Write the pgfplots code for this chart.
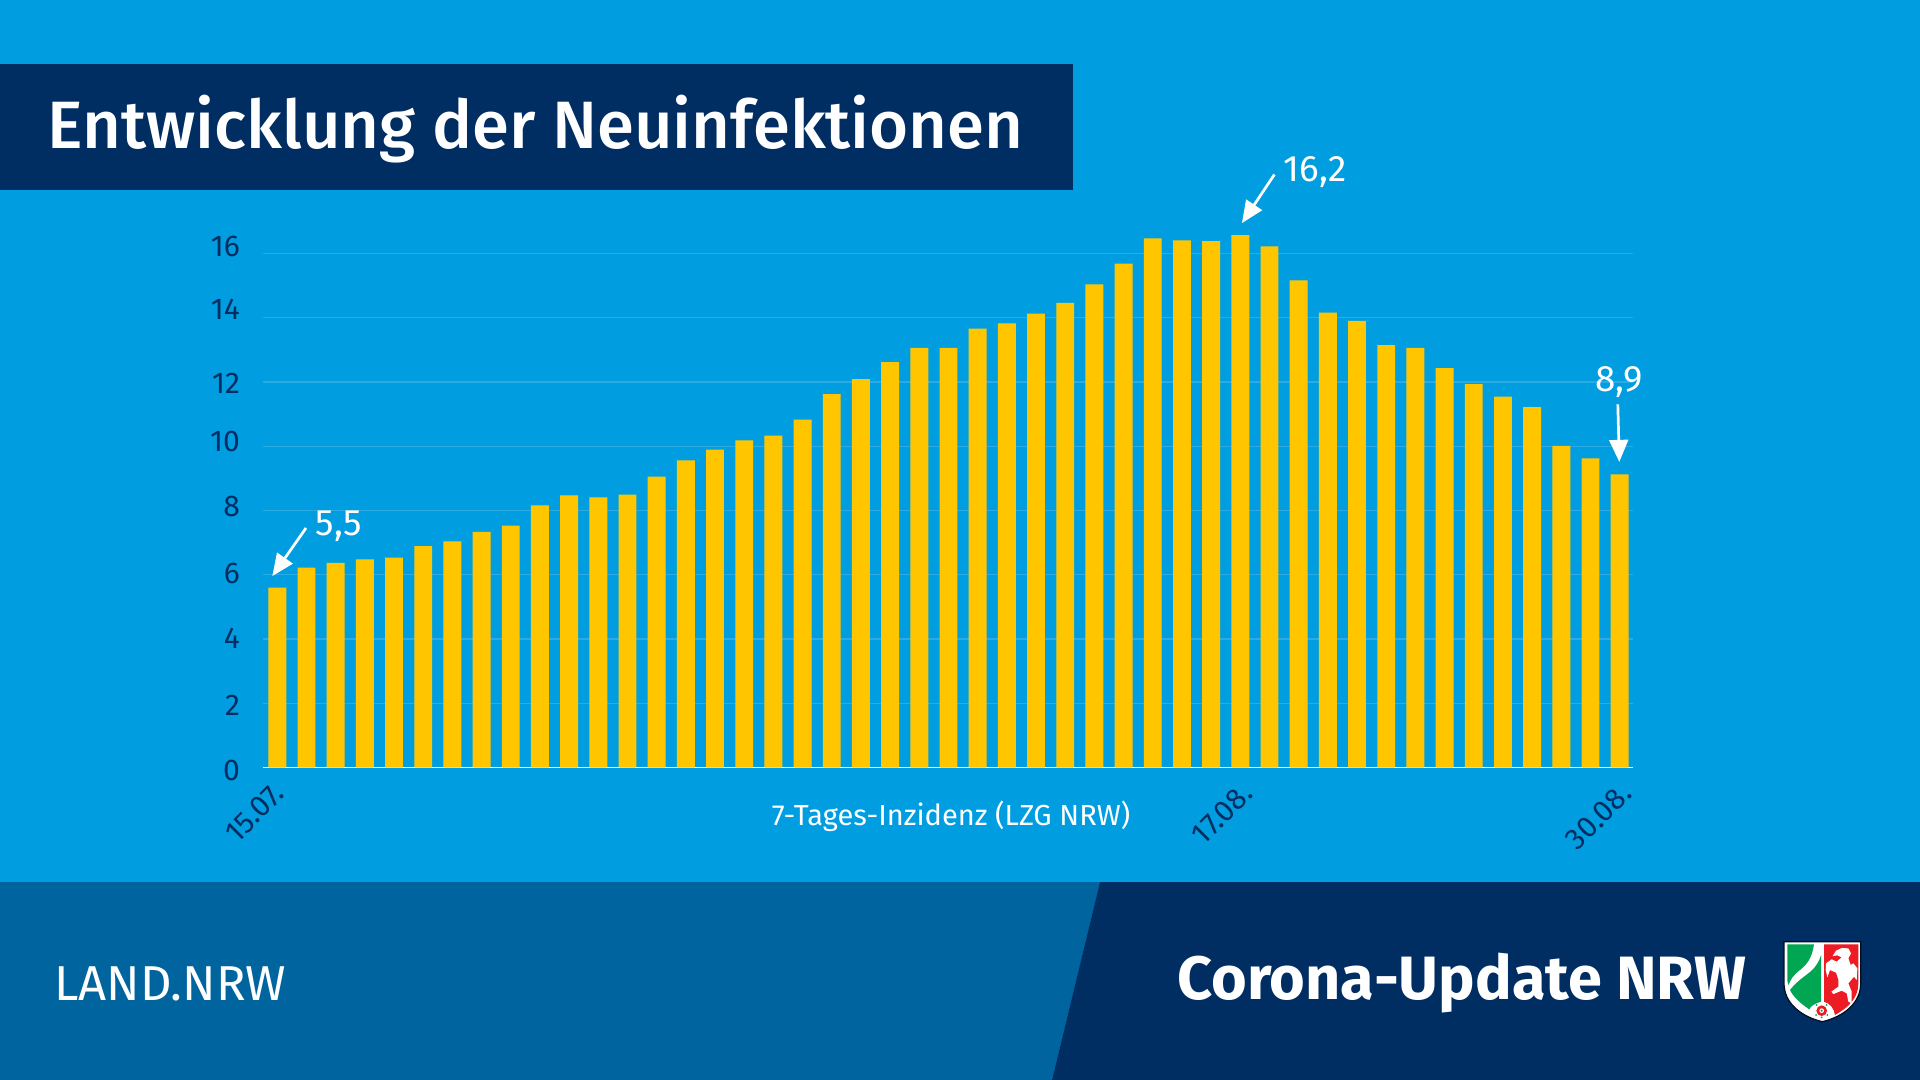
\documentclass[border=0pt]{standalone}
\usepackage{fontspec}
\setmainfont{Fira Sans}
\newfontfamily\med{Fira Sans Medium}
\usepackage{pgfplots}
\usetikzlibrary{calc}
\pgfplotsset{compat=1.18}
\usepackage{pgfplotstable}
\definecolor{bgblue}{HTML}{009EE0}
\definecolor{navy}{HTML}{002D62}
\definecolor{midblue}{HTML}{00659F}
\definecolor{bary}{HTML}{FFC600}
\definecolor{gridb}{HTML}{2BABE6}
\definecolor{nrwgreen}{HTML}{00A651}
\definecolor{nrwred}{HTML}{ED1C24}
\newcommand\yl[2]{\raisebox{#1}[\height][\depth]{#2}}
\newcommand\arr[4]{%
  \draw[white,line width=1.35pt] (#1,#2) -- ($(#1,#2)!0.8!(#3,#4)$);
  \fill[white] (#3,#4) -- ($(#3,#4)!12pt!-24:(#1,#2)$) -- ($(#3,#4)!12pt!24:(#1,#2)$) -- cycle;}
\pgfplotstableread{
i v
0 5.60
1 6.22
2 6.37
3 6.48
4 6.53
5 6.89
6 7.04
7 7.33
8 7.53
9 8.16
10 8.47
11 8.41
12 8.49
13 9.05
14 9.56
15 9.89
16 10.18
17 10.33
18 10.83
19 11.62
20 12.09
21 12.62
22 13.06
23 13.06
24 13.66
25 13.82
26 14.13
27 14.46
28 15.04
29 15.68
30 16.47
31 16.41
32 16.38
33 16.57
34 16.22
35 15.16
36 14.16
37 13.90
38 13.15
39 13.06
40 12.43
41 11.93
42 11.54
43 11.22
44 10.01
45 9.62
46 9.12
}\inz
\begin{document}
\begin{tikzpicture}
\useasboundingbox (0,0) rectangle (960pt,-540pt);
\begin{scope}[x=0.5pt,y=-0.5pt]
\fill[bgblue] (0,0) rectangle (1920,1080);
\fill[navy] (0,64) rectangle (1073,190);
\fill[midblue] (0,882) -- (1100,882) -- (1052,1080) -- (0,1080) -- cycle;
\fill[navy] (1100,882) -- (1920,882) -- (1920,1080) -- (1052,1080) -- cycle;
\node[anchor=base west,inner sep=0pt,text=white,font=\fontsize{33.5}{33.5}\selectfont\med] at (47,149) {Entwicklung der Neuinfektionen};
\node[anchor=base west,inner sep=0pt,text=white,font=\fontsize{24.5}{24.5}\selectfont] at (54,1000) {LAND.NRW};
\node[anchor=base west,inner sep=0pt,text=white,font=\fontsize{30.6}{30.6}\selectfont\bfseries] at (1177,999) {Corona-Update NRW};
\end{scope}
\begin{axis}[
  at={(131.5pt,-383.75pt)}, anchor=south west,
  scale only axis, width=684.75pt, height=273.1pt,
  xmin=-0.49, xmax=46.44, ymin=0, ymax=17,
  axis x line*=bottom, axis y line*=left,
  y axis line style={draw=none},
  x axis line style={white,line width=0.9pt,-},
  major tick length=0pt,
  ymajorgrids, grid style={gridb,line width=0.7pt},
  ytick={0,2,4,6,8,10,12,14,16},
  yticklabels={\yl{-1.26pt}{0},\yl{-.84pt}{2},\yl{.2pt}{4},\yl{.6pt}{6},\yl{1.9pt}{8},\yl{2.3pt}{10},\yl{-.84pt}{12},\yl{4pt}{14},\yl{3.6pt}{16}},
  xtick={-0.18,33,46},
  xticklabels={15.07.,17.08.,30.08.},
  tick label style={text=navy,font=\fontsize{15}{15}\selectfont},
  yticklabel style={anchor=east,xshift=-8pt},
  xticklabel style={xshift=3.5pt,yshift=-10.5pt,rotate=45,anchor=east,inner sep=0pt},
  xlabel={7-Tages-Inzidenz (LZG NRW)},
  xlabel style={at={(axis description cs:0.5024,-0.0886)},anchor=center,text=white,inner sep=0pt,font=\fontsize{14.5}{14.5}\selectfont},
  clip=false,
]
\addplot[ybar,bar width=8.95pt,bar shift=0pt,fill=bary,draw=none] table[x=i,y=v] {\inz};
\end{axis}
\begin{scope}[x=0.5pt,y=-0.5pt]
\tikzset{ann/.style={anchor=center,inner sep=0pt,text=white,font=\fontsize{18.4}{18.4}\selectfont}}
\node[ann] at (339,526.5) {5,5};
\node[ann] at (1315,172.5) {16,2};
\node[ann] at (1619,382.5) {8,9};
\arr{306}{528}{272.4}{576}
\arr{1274.4}{174.5}{1242}{223}
\arr{1617.8}{404.3}{1619.3}{461.8}
\end{scope}
% coat of arms
\begin{scope}[shift={(870pt,-460pt)},x=0.16667pt,y=-0.16667pt]
\fill[white,draw=black!70!navy,line width=0.6pt] (132,65) -- (362,65) -- (362,190) .. controls (362,250) and (310,290) .. (247,305) .. controls (184,290) and (132,250) .. (132,190) -- cycle;
\fill[nrwgreen] (142,73) -- (222,73) .. controls (216,110) and (205,130) .. (180,150) .. controls (160,165) and (150,180) .. (146,195) .. controls (143,190) and (142,185) .. (142,180) -- cycle;
\fill[nrwgreen] (243,105) -- (243,245) .. controls (225,250) and (212,258) .. (208,268) .. controls (180,250) and (158,228) .. (150,210) .. controls (165,190) and (185,175) .. (205,160) .. controls (225,145) and (238,125) .. (243,105) -- cycle;
\fill[nrwred] (252,73) -- (355,73) -- (355,190) .. controls (355,235) and (325,262) .. (285,285) .. controls (282,265) and (270,250) .. (252,245) -- cycle;
\fill[white] (278,108) -- (288,92) -- (305,84) -- (325,85) -- (333,100) -- (325,115) -- (332,135) -- (340,130) -- (352,145) -- (350,180) -- (342,170) -- (335,178) -- (325,190) -- (335,215) -- (335,250) -- (325,245) -- (320,220) -- (305,212) -- (280,222) -- (274,215) -- (295,200) -- (295,178) -- (288,158) -- (270,150) -- (262,172) -- (257,150) -- (258,130) -- (275,118) -- (290,125) -- (305,112) -- (292,106) -- cycle;
\fill[nrwred] (245,272) circle (16);
\fill[white] (245,272) circle (7);
\fill[nrwgreen] (245,272) circle (3.5);
\foreach \a/\b in {230/255,260/255,228/285,262/285,245/292} \fill[nrwgreen] (\a,\b) circle (3);
\end{scope}
\end{tikzpicture}
\end{document}
